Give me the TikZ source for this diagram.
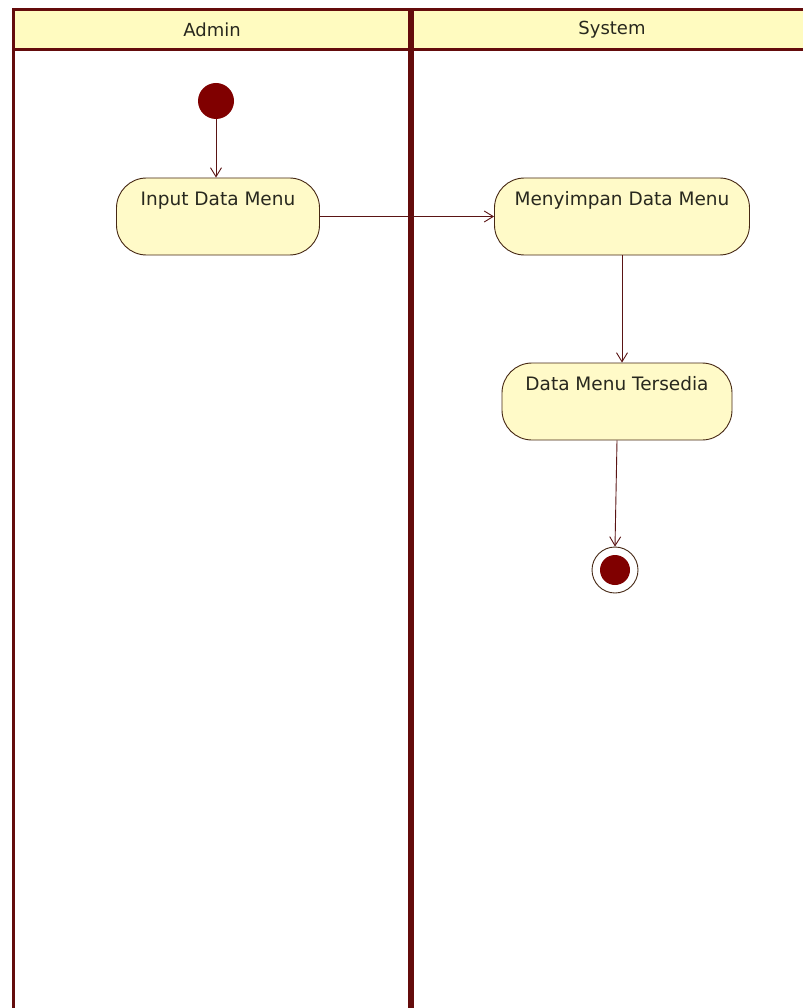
\documentclass[tikz,border=0pt]{standalone}
\usepackage{fontspec}
\setmainfont{DejaVu Sans}
\usetikzlibrary{arrows.meta}
\definecolor{lane}{RGB}{100,12,12}
\definecolor{hdrfill}{RGB}{255,251,192}
\definecolor{actfill}{RGB}{255,250,200}
\definecolor{actline}{RGB}{70,40,20}
\definecolor{dotred}{RGB}{128,0,0}
\definecolor{flow}{RGB}{90,20,20}
\definecolor{txt}{RGB}{40,40,30}
\tikzset{
  lanepen/.style={draw=lane, line width=3pt},
  divpen/.style={draw=lane, line width=6pt},
  hdrtext/.style={font=\fontsize{18}{22}\selectfont, text=txt},
  action/.style={draw=actline, fill=actfill, line width=0.9pt, rounded corners=30pt, minimum height=77pt, inner sep=0pt},
  acttext/.style={font=\fontsize{18.5}{22}\selectfont, text=txt, anchor=north, inner sep=0pt, yshift=-14pt},
  startdot/.style={circle, fill=dotred, minimum size=36pt, inner sep=0pt},
  endring/.style={circle, draw=actline, fill=white, line width=0.9pt, minimum size=46pt, inner sep=0pt},
  enddot/.style={circle, fill=dotred, minimum size=30pt, inner sep=0pt},
  flowarrow/.style={draw=flow, line width=0.9pt, -{Straight Barb[length=9pt,width=11pt]}}
}
\begin{document}
\begin{tikzpicture}[x=1pt,y=-1pt]
\useasboundingbox (0,0) rectangle (803,1008);
\fill[white] (0,0) rectangle (803,1008);
% header band
\fill[hdrfill] (13,10) rectangle (803,50);
\draw[lanepen] (13,10) -- (803,10);
\draw[lanepen] (13,50) -- (803,50);
\draw[lanepen] (13,8.5) -- (13,1008);
\draw[divpen] (411,8.5) -- (411,1008);
\node[hdrtext] (admin) at (212,30) {Admin};
\node[hdrtext] (system) at (612,30) {System};
% nodes
\node[startdot] (start) at (216,101) {};
\node[action, minimum width=203pt] (input) at (218,216.5) {};
\node[acttext] (inputlbl) at (input.north) {Input Data Menu};
\node[action, minimum width=255pt] (save) at (622,216.5) {};
\node[acttext] (savelbl) at (save.north) {Menyimpan Data Menu};
\node[action, minimum width=230pt] (avail) at (617,401.5) {};
\node[acttext] (availlbl) at (avail.north) {Data Menu Tersedia};
\node[endring] (end) at (615,570) {};
\node[enddot] (enddot) at (end) {};
% flows
\draw[flowarrow] (start.south) -- (input.north -| start.south);
\draw[flowarrow] (input.east) -- (save.west);
\draw[flowarrow] (save.south) -- (avail.north -| save.south);
\draw[flowarrow] (avail.south) -- (end.north);
\end{tikzpicture}
\end{document}
